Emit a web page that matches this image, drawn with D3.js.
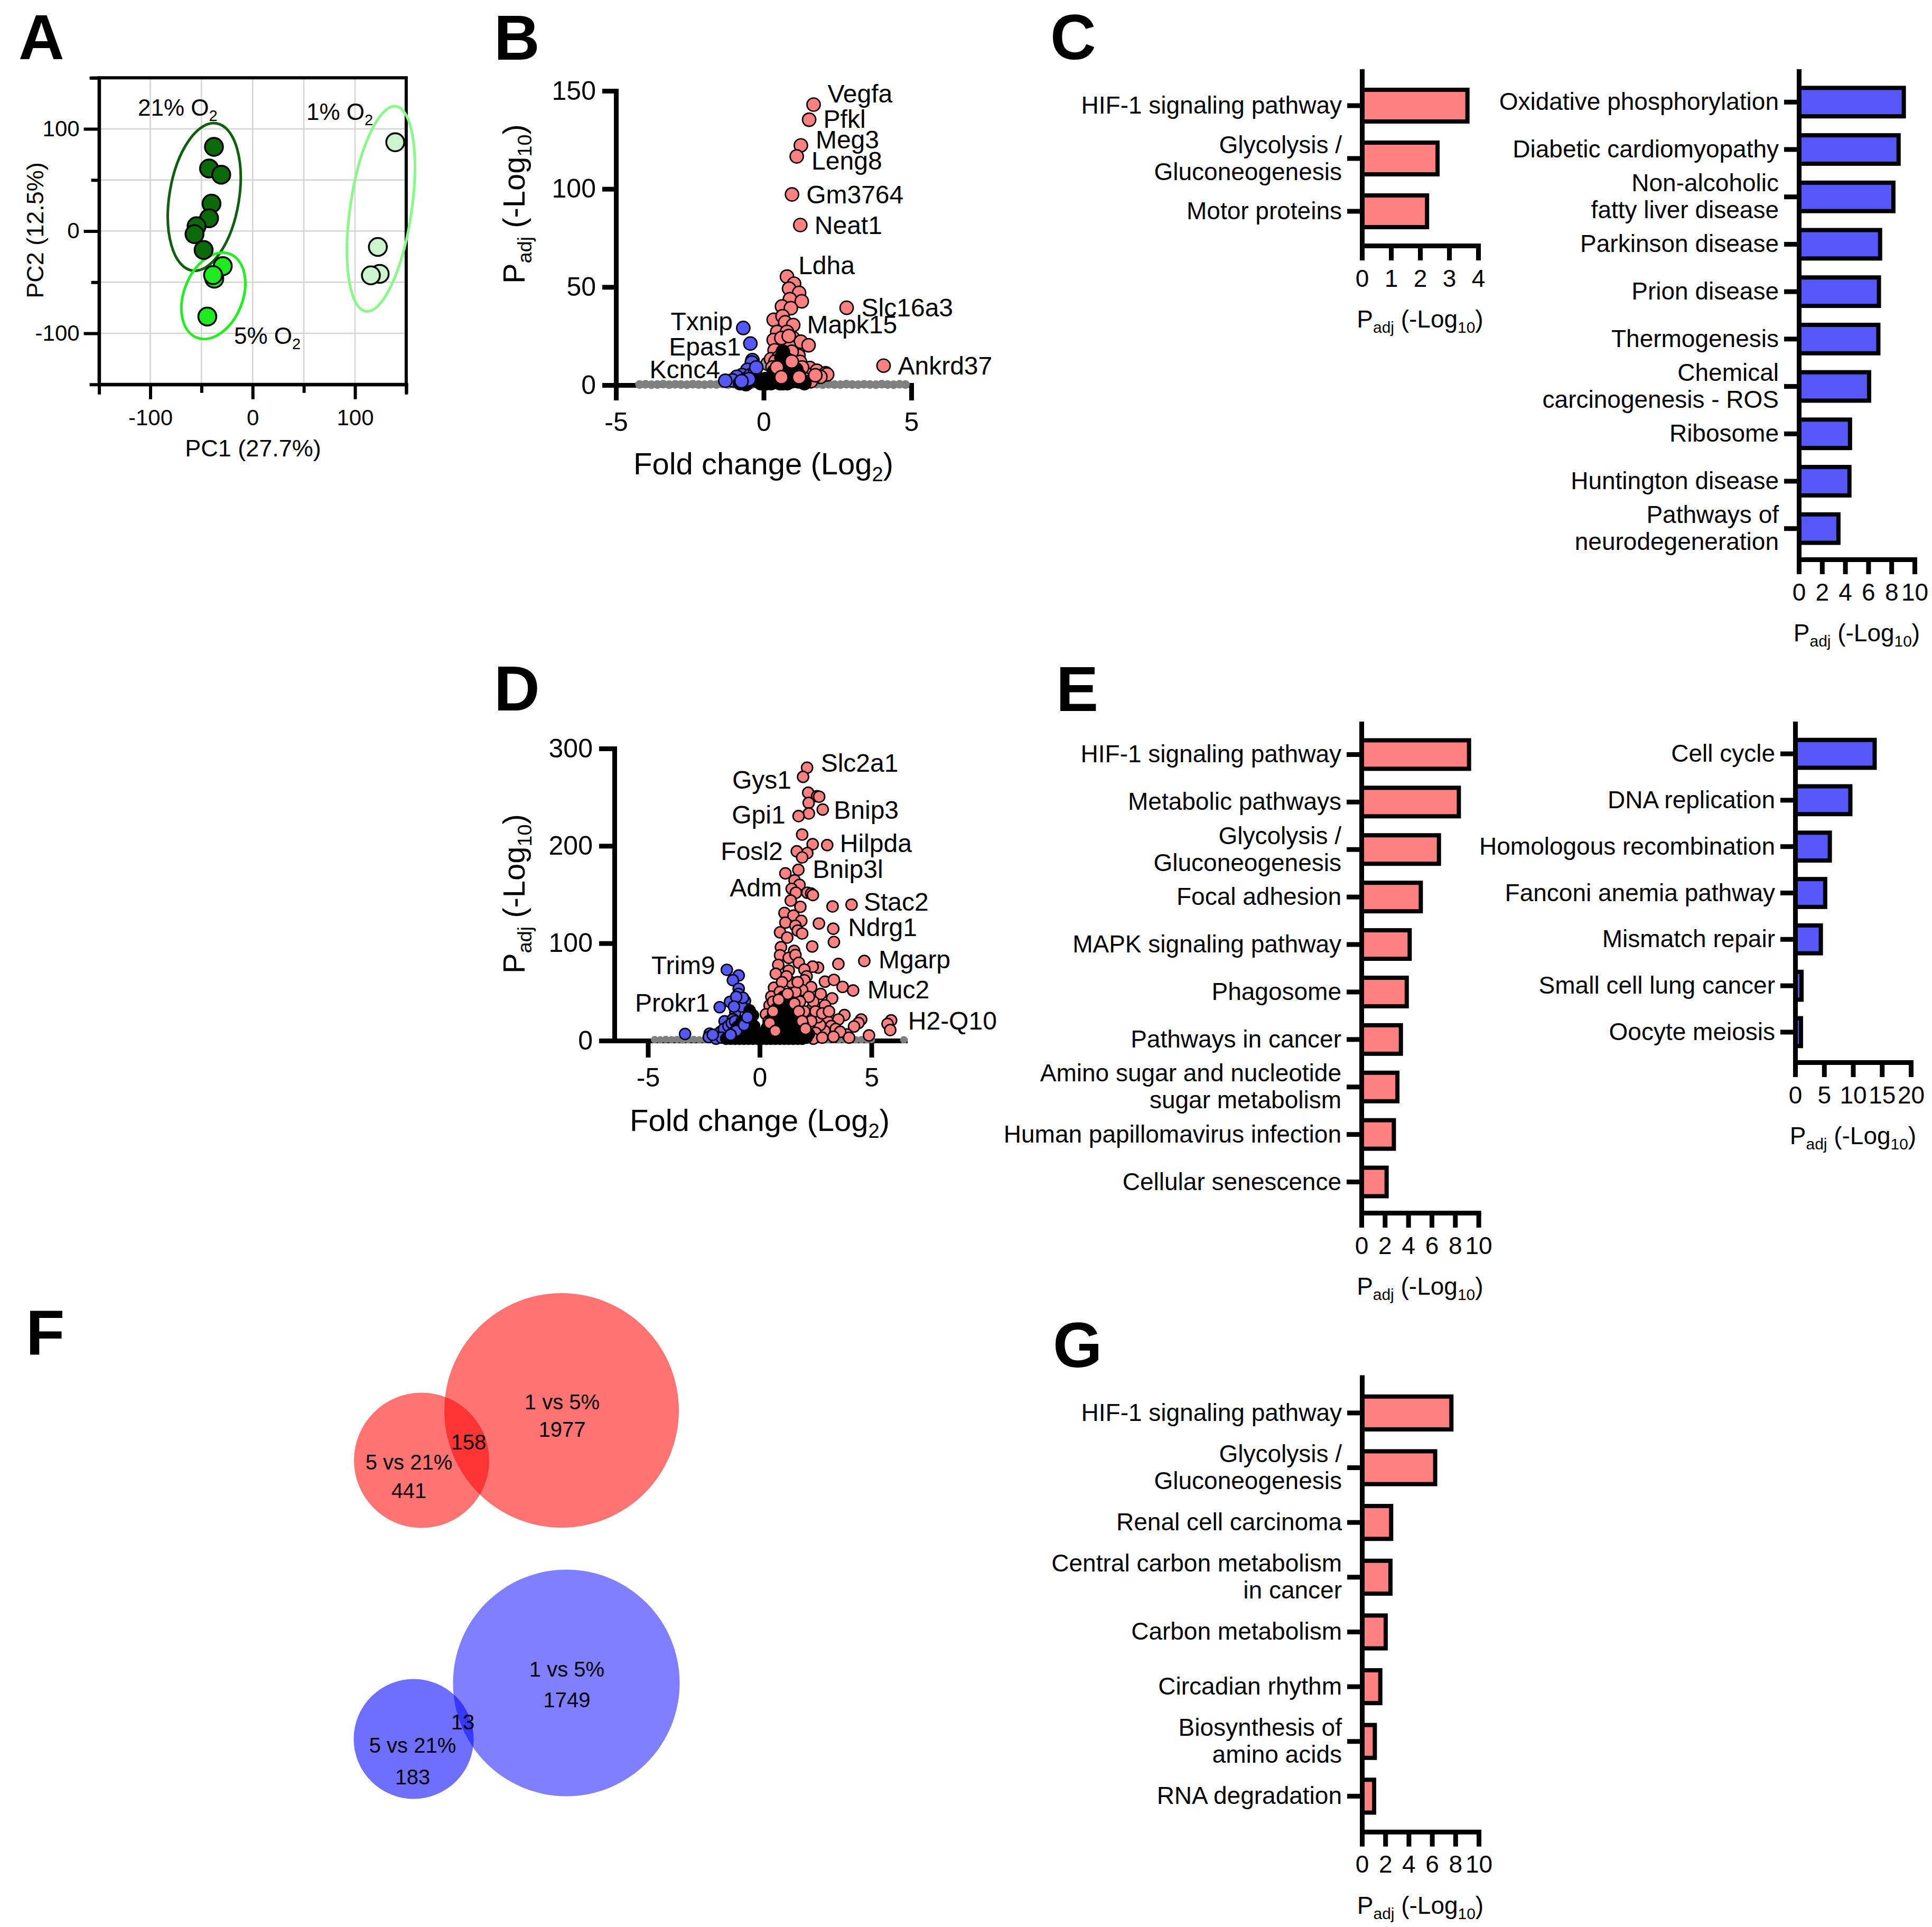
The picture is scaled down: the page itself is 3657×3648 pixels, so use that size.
<!DOCTYPE html>
<html>
<head>
<meta charset="utf-8">
<script src="https://cdn.jsdelivr.net/npm/d3@7"></script>
<style>
  body { margin: 0; background: #fff; }
</style>
</head>
<body>
<svg id="fig"></svg>
<script>
// ---------------- data ----------------
// A: PCA scores (PC1, PC2)
var pca21 = [[-37.8,82.4],[-42.6,61.2],[-30.7,55.2],[-40.2,26.9],[-42.6,12.5],[-54.8,4.8],[-56.8,-3.0],[-47.9,-18.5]]
var pca5 = [[-29.2,-34.3],[-37.5,-46.5],[-38.7,-43.0],[-44.3,-83.6]]
var pca1 = [[139.3,86.9],[124.1,-41.8],[122.3,-15.5],[115.5,-43.3]]
// ellipses: centre x, centre y, semi-minor, semi-major, tilt (deg)
var pcaEllipses = [[-47.3,33.4,34,73,9.4],[-38.4,-63.3,28.7,44,21.7],[125.3,21.8,30,101.4,8.4]]
var pcaLabels = [['21% O','2',-112.1,112.9],['1% O','2',52.5,108.8],['5% O','2',-18.2,-110.3]]

// B: volcano 1% vs 5%  [log2 FC, -log10 padj]
var upB = [[1.69,143],[1.54,135.3],[1.26,122.2],[1.12,116.6],[0.96,97.2],[1.24,81.6],[0.79,55.3],[2.81,39.4],[4.06,9.9],
  [1.03,51.7],[0.86,49.2],[1.20,47],[0.89,43.8],[1.29,42.7],[0.62,40.1],[0.92,39.2],[0.34,33.3],[0.64,35.1],[0.73,32],
  [1.0,30.6],[0.46,27.1],[0.79,27.1],[0.34,23],[0.67,23.5],[1.0,23.9],[1.26,22.1],[1.52,20.3],[0.37,17.7],[0.79,19.5],
  [1.18,15],[0.25,13.2],[1.23,11.8],[1.56,8.7],[1.80,7.3],[2.10,6.0],[2.15,5.4],[1.92,4.2],[1.68,3.8],[1.45,5.5],[1.3,9],
  [0.5,14],[0.85,20],[0.95,17],[0.4,12],[0.3,9],[0.6,24],[0.85,25],[1.4,3],[1.6,2],[1.75,5]]
var downB = [[-0.69,29.1],[-0.45,21.2],[-0.38,12.7],[-0.40,11.5],[-0.55,7.8],[-0.73,5.1],[-0.91,4.2],[-1.06,2.4],[-1.30,2.2],
  [-0.6,3],[-0.45,5],[-0.3,6],[-0.25,9]]
var nsBandB = [[-4.2,.3],[-4.0,.4],[-3.8,.2],[-3.6,.3],[-3.4,.5],[-3.2,.2],[-3.0,.4],[-2.8,.3],[-2.6,.2],[-2.4,.5],[-2.2,.3],
  [-2.0,.2],[-1.8,.4],[-1.6,.3],[-1.4,.6],[-1.2,.2],[-1.0,.5],[-0.8,.3],[-0.6,.4],[-0.4,.2],[-0.2,.6],[0,.3],[0.2,.5],[0.4,.2],
  [0.6,.4],[0.8,.3],[1.0,.5],[1.2,.2],[1.4,.4],[1.6,.3],[1.8,.5],[2.0,.2],[2.2,.4],[2.4,.3],[2.6,.2],[2.8,.5],[3.0,.3],[3.2,.2],
  [3.4,.4],[3.6,.3],[3.8,.2],[4.0,.5],[4.2,.3],[4.4,.2],[4.6,.4],[4.8,.3]]
var nsB = [[0.13,10.9],[0.07,2.9]]
var coreB = [[-0.8,1],[-0.65,1.5],[-0.5,2],[-0.35,2.5],[-0.2,2],[-0.1,1],[0,2],[0.1,1],[0.2,2],[0.3,4],[0.4,2],[0.45,7],
  [0.5,4],[0.55,10],[0.6,14],[0.62,6],[0.65,17],[0.7,11],[0.72,3],[0.75,8],[0.8,13],[0.85,5],[0.9,9],[0.95,2],[1.0,6],
  [1.05,3],[1.1,8],[1.15,2],[1.2,5],[1.3,2],[1.38,1],[0.55,1],[0.8,1],[0.35,7],[0.65,1],[-0.6,0.5],[0.25,1],[0.05,3]]
var genesB = [['Vegfa',1.69,143],['Pfkl',1.54,135.3],['Meg3',1.26,122.2],['Leng8',1.12,116.6],['Gm3764',0.96,97.2],
  ['Neat1',1.24,81.6],['Ldha',0.79,55.3],['Slc16a3',2.81,39.4],['Mapk15',1.0,30.6],['Ankrd37',4.06,9.9],
  ['Txnip',-0.69,29.1],['Epas1',-0.45,21.2],['Kcnc4',-1.30,2.2]]

// C: KEGG enrichment, 1% vs 5%
var catsCUp = ['HIF-1 signaling pathway','Glycolysis /\nGluconeogenesis','Motor proteins']
var valsCUp = [3.63,2.6,2.24]
var catsCDown = ['Oxidative phosphorylation','Diabetic cardiomyopathy','Non-alcoholic\nfatty liver disease','Parkinson disease',
  'Prion disease','Thermogenesis','Chemical\ncarcinogenesis - ROS','Ribosome','Huntington disease','Pathways of\nneurodegeneration']
var valsCDown = [9.07,8.62,8.17,7.02,6.92,6.87,6.07,4.42,4.37,3.42]

// D: volcano 5% vs 21%
var upD = [[2.12,280.3],[1.94,270.9],[2.17,254.6],[2.57,251],[2.66,250.5],[2.19,244.2],[2.82,237.3],[2.20,233.3],[1.74,230.6],
  [1.90,211.6],[2.37,201.7],[3.02,200.8],[1.66,194.4],[2.13,192.6],[1.90,188.1],[1.73,175.4],[1.15,171.8],[1.56,164.6],
  [1.78,160],[1.43,155.9],[1.62,151.9],[2.13,151.9],[2.3,151],[2.38,149.5],[1.39,143.8],[1.82,137.4],[3.26,137.8],[4.11,139.6],
  [1.11,131.1],[1.51,128.4],[1.86,123],[1.15,121.2],[2.65,120.3],[3.29,114.9],[1.6,118],[1.7,113],[1.9,110],[0.91,111.2],
  [1.23,105.8],[3.32,101.3],[2.35,96.7],[0.95,95.9],[1.54,92.2],[0.91,87.7],[1.3,85],[1.6,88],[1.75,80],[4.68,81.8],[3.52,78.7],
  [2.61,75],[2.37,76],[0.83,77.8],[0.72,68.7],[1.3,72],[2.0,73],[2.1,66],[2.92,60.6],[3.32,62.4],[3.71,55.2],[4.18,51.5],
  [2.0,62],[2.3,55],[1.9,52],[0.64,54.3],[0.52,45.2],[2.73,47.9],[3.24,43.4],[2.33,32.6],[2.92,36.2],[0.44,36.2],[0.28,27.1],
  [3.79,26.2],[3.52,21.7],[4.54,21.7],[4.42,18.1],[4.22,14.5],[3.91,6.3],[4.89,5.4],[5.88,20.8],[5.72,17.2],[5.84,10.9],
  [3.04,19.9],[3.2,15],[2.9,10],[2.7,16],[2.5,8],[2.6,24],[2.4,40],[2.5,30],[2.2,45],[2.8,28],[3.1,30],[3.4,12],[3.6,9],
  [2.3,20],[2.0,30],[1.8,40],[1.6,50],[1.4,60],[1.2,66],[1.0,60],[0.9,50],[0.4,20],[0.3,12],[0.2,6],[0.6,40],[1.7,60],
  [2.4,2],[2.8,3],[3.3,4],[4.0,3]]
var downD = [[-1.47,72.7],[-0.94,66.9],[-1.20,62],[-0.94,53.3],[-0.95,48],[-0.66,40.7],[-1.33,39.8],[-1.79,34.3],[-1.09,28.9],
  [-1.57,19.9],[-1.2,22],[-0.55,32],[-0.42,27],[-3.34,6.9],[-2.24,7.2],[-2.28,3.6],[-1.84,7.2],[-1.75,9],[-1.6,12],[-1.4,15],
  [-1.25,18],[-1.1,20],[-0.8,35],[-0.75,44],[-1.05,45],[-1.15,35],[-2.0,4],[-1.95,2],[-1.7,3],[-2.1,6]]
var nsBandD = [[-4.7,1],[-4.45,.8],[-4.2,1.2],[-3.95,.9],[-3.7,1.1],[-3.45,.7],[-3.2,1],[-2.95,1.2],[-2.7,.8],[-2.45,1],
  [-2.2,.9],[-1.95,1.1],[-1.7,.8],[-1.45,1],[-1.2,1.2],[-0.95,.9],[-0.7,1],[-0.45,.8],[-0.2,1.1],[0.05,.9],[0.3,1],[0.55,1.2],
  [0.8,.8],[1.05,1],[1.3,.9],[1.55,1.1],[1.8,.8],[2.05,1],[2.3,1.2],[2.55,.9],[2.8,1],[3.05,.8],[3.3,1.1],[3.55,.9],[3.8,1],
  [4.05,1.2],[4.3,.8],[4.55,1],[4.8,.9],[5.0,1.1],[6.45,.8]]
var nsD = [[0.1,2.5]]
var coreD = [[0.1,2],[0.3,2],[0.5,2],[0.7,2],[0.9,2],[1.1,2],[1.3,2],[1.5,2],[1.7,2],[1.9,2],[2.1,3],[2.2,7],
  [0.2,8],[0.4,7],[0.6,8],[0.8,7],[1.0,8],[1.2,7],[1.4,8],[1.6,8],[1.8,8],[2.0,10],
  [0.35,14],[0.55,14],[0.75,14],[0.95,14],[1.15,14],[1.35,14],[1.55,14],[1.75,15],[1.95,16],
  [0.5,20],[0.7,21],[0.9,20],[1.1,21],[1.3,20],[1.5,21],[1.7,22],
  [0.6,27],[0.8,27],[1.0,28],[1.2,27],[1.4,28],[1.6,28],
  [0.75,33],[0.95,34],[1.15,34],[1.35,33],[1.5,35],[0.9,39],[1.1,40],[1.3,39],[1.05,45],[1.2,43],
  [-1.5,2],[-1.3,2],[-1.1,2],[-0.9,2],[-0.7,2],[-0.5,2],[-0.3,2],[-0.1,2],
  [-1.2,8],[-1.0,8],[-0.8,8],[-0.6,8],[-0.4,8],[-0.2,8],
  [-1.0,14],[-0.8,14],[-0.6,14],[-0.4,14],[-0.25,15],[-0.8,20],[-0.6,20],[-0.4,21],[-0.3,26],[-0.5,26],[-0.45,31]]
// a few coloured points that sit on top of the dense core
var upCoreD = [[0.45,18],[0.6,30],[1.55,38],[1.75,30],[1.9,20],[2.05,12],[0.7,10],[1.25,48],[0.85,42]]
var downCoreD = [[-1.05,10],[-0.7,16],[-1.3,6],[-0.55,24]]
var genesD = [['Slc2a1',2.12,280.3],['Gys1',1.94,270.9],['Bnip3',2.82,237.3],['Gpi1',1.74,230.6],['Hilpda',3.02,200.8],
  ['Fosl2',1.66,194.4],['Bnip3l',1.73,175.4],['Adm',1.43,155.9],['Stac2',4.11,139.6],['Ndrg1',3.29,114.9],
  ['Mgarp',4.68,81.8],['Muc2',4.18,51.5],['H2-Q10',5.88,20.8],['Trim9',-1.47,72.7],['Prokr1',-1.79,34.3]]
var upCoreB = [[0.45,9],[0.95,12],[1.2,4],[0.6,4]]
var downCoreB = [[-0.5,3],[-0.75,2]]

// E: KEGG enrichment, 5% vs 21%
var catsEUp = ['HIF-1 signaling pathway','Metabolic pathways','Glycolysis /\nGluconeogenesis','Focal adhesion',
  'MAPK signaling pathway','Phagosome','Pathways in cancer','Amino sugar and nucleotide\nsugar metabolism',
  'Human papillomavirus infection','Cellular senescence']
var valsEUp = [9.19,8.32,6.62,5.07,4.12,3.87,3.37,3.07,2.77,2.15]
var catsEDown = ['Cell cycle','DNA replication','Homologous recombination','Fanconi anemia pathway','Mismatch repair',
  'Small cell lung cancer','Oocyte meiosis']
var valsEDown = [13.74,9.54,5.99,5.19,4.44,1.1,1.0]

// F: overlap of DEGs
var vennUp = {small: 441, big: 1977, both: 158}
var vennDown = {small: 183, big: 1749, both: 13}

// G: shared up-regulated genes
var catsG = ['HIF-1 signaling pathway','Glycolysis /\nGluconeogenesis','Renal cell carcinoma',
  'Central carbon metabolism\nin cancer','Carbon metabolism','Circadian rhythm','Biosynthesis of\namino acids','RNA degradation']
var valsG = [7.66,6.27,2.5,2.44,2.03,1.57,1.1,1.04]

// ---------------- drawing ----------------
var W = 3657, H = 3648
var FONT = '"Liberation Sans", Arial, Helvetica, sans-serif'
var RED = '#FF8080', BLUE = '#5557F8'
var plain = d => String(d)   // hyphen minus, no decimals

var svg = d3.select('#fig').attr('width', W).attr('height', H)
svg.append('rect').attr('width', W).attr('height', H).attr('fill', '#fff')

function txt(g, x, y, s, fs, anchor) {
  return g.append('text').attr('x', x).attr('y', y).attr('font-family', FONT)
    .attr('font-size', fs).attr('text-anchor', anchor || 'start').attr('fill', '#000').text(s)
}

function letter(t, x, y) {
  txt(svg, x, y, t, 120).attr('font-weight', 'bold')
}

function styleAxis(g, lw, fs) {
  g.attr('font-family', FONT).attr('font-size', fs)
  g.select('.domain').attr('stroke-width', lw).attr('stroke-linecap', 'square').attr('stroke', '#000')
  g.selectAll('.tick line').attr('stroke-width', lw).attr('stroke', '#000')
  g.selectAll('.tick text').attr('fill', '#000')
}

// P_adj (-Log10) title with subscripts
function padjTitle(g, fs) {
  var t = g.append('text').attr('font-family', FONT).attr('font-size', fs).attr('text-anchor', 'middle').attr('fill', '#000')
  var s = fs * 0.65, d = fs * 0.22
  t.append('tspan').text('P')
  t.append('tspan').attr('font-size', s).attr('dy', d).text('adj')
  t.append('tspan').attr('dy', -d).text(' (-Log')
  t.append('tspan').attr('font-size', s).attr('dy', d).text('10')
  t.append('tspan').attr('dy', -d).text(')')
  return t
}

// ---------- A: PCA ----------
letter('A', 35, 112)
var xA = d3.scaleLinear().domain([-150, 150]).range([187.6, 768.9])
var yA = d3.scaleLinear().domain([-150, 150]).range([727.75, 147.25])
var gA = svg.append('g')
var gridV = [-100, -50, 0, 50, 100]
gA.selectAll('.gx').data(gridV).join('line')
  .attr('x1', d => xA(d)).attr('x2', d => xA(d)).attr('y1', yA(150)).attr('y2', yA(-150))
  .attr('stroke', '#d4d4d4').attr('stroke-width', 2.5)
gA.selectAll('.gy').data(gridV).join('line')
  .attr('y1', d => yA(d)).attr('y2', d => yA(d)).attr('x1', xA(-150)).attr('x2', xA(150))
  .attr('stroke', '#d4d4d4').attr('stroke-width', 2.5)
gA.append('rect').attr('x', xA(-150)).attr('y', yA(150)).attr('width', xA(150) - xA(-150)).attr('height', yA(-150) - yA(150))
  .attr('fill', 'none').attr('stroke', '#000').attr('stroke-width', 6)
var axAl = gA.append('g').attr('transform', `translate(${xA(-150)},0)`)
  .call(d3.axisLeft(yA).tickValues([-100, 0, 100]).tickFormat(plain).tickSize(29).tickPadding(8).tickSizeOuter(0))
styleAxis(axAl, 6, 42)
var axAl2 = gA.append('g').attr('transform', `translate(${xA(-150)},0)`)
  .call(d3.axisLeft(yA).tickValues([-50, 50, 150]).tickSize(15).tickFormat(''))
styleAxis(axAl2, 6, 42)
var axAb = gA.append('g').attr('transform', `translate(0,${yA(-150)})`)
  .call(d3.axisBottom(xA).tickValues([-100, 0, 100]).tickFormat(plain).tickSize(28).tickPadding(19).tickSizeOuter(0))
styleAxis(axAb, 6, 42)
var axAb2 = gA.append('g').attr('transform', `translate(0,${yA(-150)})`)
  .call(d3.axisBottom(xA).tickValues([-50, 50, 150]).tickSize(16).tickFormat(''))
styleAxis(axAb2, 6, 42)
txt(gA, 479, 864, 'PC1 (27.7%)', 45, 'middle')
txt(gA, 0, 0, 'PC2 (12.5%)', 45, 'middle').attr('transform', 'translate(82,436) rotate(-90)')

var ellColors = ['#0F5F0F', '#22EE22', '#88F888']
var ptColors = ['#0A6A0A', '#1EEB1E', '#CCF5CC']
gA.selectAll('.ell').data(pcaEllipses).join('ellipse')
  .attr('transform', d => `translate(${xA(d[0])},${yA(d[1])}) rotate(${d[4]})`)
  .attr('rx', d => xA(d[2]) - xA(0)).attr('ry', d => yA(0) - yA(d[3]))
  .attr('fill', 'none').attr('stroke', (d, i) => ellColors[i]).attr('stroke-width', 5)
;[pca21, pca5, pca1].forEach(function(set, i) {
  gA.append('g').selectAll('circle').data(set).join('circle')
    .attr('cx', d => xA(d[0])).attr('cy', d => yA(d[1])).attr('r', 17)
    .attr('fill', ptColors[i]).attr('stroke', '#000').attr('stroke-width', 3.5)
})
pcaLabels.forEach(function(l) {
  var t = txt(gA, xA(l[2]), yA(l[3]), l[0], 44)
  t.append('tspan').attr('font-size', 29).attr('dy', 10).text(l[1])
})

// ---------- volcano helper ----------
function volcano(cfg) {
  var g = svg.append('g')
  var x = d3.scaleLinear().domain(cfg.xdom).range(cfg.xr)
  var y = d3.scaleLinear().domain(cfg.ydom).range(cfg.yr)
  var ax = g.append('g').attr('transform', `translate(${cfg.xr[0]},0)`)
    .call(d3.axisLeft(y).tickValues(cfg.yticks).tickFormat(plain).tickSize(cfg.tl).tickPadding(12).tickSizeOuter(0))
  styleAxis(ax, 9, 50)
  var bx = g.append('g').attr('transform', `translate(0,${y(0)})`)
    .call(d3.axisBottom(x).tickValues([-5, 0, 5]).tickFormat(plain).tickSize(cfg.tl + 3).tickPadding(cfg.xpad).tickSizeOuter(0))
  styleAxis(bx, 9, 50)
  function dots(data, r, fill, stroke, sw) {
    g.append('g').selectAll('circle').data(data).join('circle')
      .attr('cx', d => x(d[0])).attr('cy', d => y(d[1])).attr('r', r)
      .attr('fill', fill).attr('stroke', stroke).attr('stroke-width', sw)
  }
  dots(cfg.band, cfg.r * 0.6, '#808080', '#808080', 1.5)
  dots(cfg.ns, cfg.r, '#999999', '#000', 2.7)
  dots(cfg.down, cfg.r, BLUE, '#000', 2.7)
  dots(cfg.up, cfg.r, RED, '#000', 2.7)
  dots(cfg.core, cfg.r, '#000', '#000', 2.7)
  dots(cfg.downCore, cfg.r, BLUE, '#000', 2.7)
  dots(cfg.upCore, cfg.r, RED, '#000', 2.7)
  cfg.genes.forEach(function(gn, i) {
    var o = cfg.offs[i]
    txt(g, x(gn[1]) + o[0], y(gn[2]) + o[1], gn[0], 48, o[2])
  })
  var xt = txt(g, cfg.xtitle[0], cfg.xtitle[1], 'Fold change (Log', 58, 'middle')
  xt.append('tspan').attr('font-size', 38).attr('dy', 13).text('2')
  xt.append('tspan').attr('dy', -13).text(')')
  padjTitle(g, 58).attr('transform', `translate(${cfg.ytitle[0]},${cfg.ytitle[1]}) rotate(-90)`)
}

// ---------- B ----------
letter('B', 935, 113)
volcano({
  xdom: [-5, 5], xr: [1166, 1725], ydom: [0, 150], yr: [729, 172], yticks: [0, 50, 100, 150],
  tl: 26, xpad: 22, r: 12.5,
  band: nsBandB, ns: nsB, up: upB, down: downB, core: coreB, upCore: upCoreB, downCore: downCoreB, genes: genesB,
  offs: [[26.5,-4,'start'],[27,15,'start'],[28,6,'start'],[28,25,'start'],[27,17,'start'],[27,17,'start'],[21.5,-5,'start'],
    [28,16,'start'],[26,16,'start'],[27,17,'start'],[-20,4.5,'end'],[-18,23,'end'],[-10,-5,'end']],
  xtitle: [1445, 898], ytitle: [993, 386]
})

// ---------- D ----------
letter('D', 935, 1345)
volcano({
  xdom: [-6.5, 6.5], xr: [1163, 1713], ydom: [0, 300], yr: [1970, 1417], yticks: [0, 100, 200, 300],
  tl: 29, xpad: 19, r: 10.5,
  band: nsBandD, ns: nsD, up: upD, down: downD, core: coreD, upCore: upCoreD, downCore: downCoreD, genes: genesD,
  offs: [[26,8,'start'],[-22,22,'end'],[21,17,'start'],[-25,14,'end'],[24,13,'start'],[-26.5,16,'end'],[27,15,'start'],
    [-18.5,14,'end'],[23,11,'start'],[28,13.5,'start'],[27,14,'start'],[27,15,'start'],[32,17,'start'],[-22,8,'end'],[-19,8,'end']],
  xtitle: [1438, 2141], ytitle: [993, 1692]
})

// ---------- bar chart helper ----------
function barChart(cfg) {
  var g = svg.append('g')
  var y = d3.scaleBand().domain(cfg.cats).range([cfg.top, cfg.bottom]).paddingInner(0.4).paddingOuter(0.35)
  var x = d3.scaleLinear().domain([0, cfg.max]).range([cfg.left, cfg.right])
  g.selectAll('rect').data(cfg.cats).join('rect')
    .attr('x', x(0)).attr('y', d => y(d)).attr('height', y.bandwidth())
    .attr('width', (d, i) => x(cfg.vals[i]) - x(0))
    .attr('fill', cfg.color).attr('stroke', '#000').attr('stroke-width', 8)
  var ya = g.append('g').attr('transform', `translate(${cfg.left},0)`)
    .call(d3.axisLeft(y).tickSize(28).tickFormat('').tickSizeOuter(0))
  styleAxis(ya, 9, 46)
  var xa = g.append('g').attr('transform', `translate(0,${cfg.bottom})`)
    .call(d3.axisBottom(x).tickValues(cfg.ticks).tickFormat(plain).tickSize(28).tickPadding(17).tickSizeOuter(0))
  styleAxis(xa, 9, 46)
  cfg.cats.forEach(function(c) {
    var lines = c.split('\n')
    var cy = y(c) + y.bandwidth() / 2
    lines.forEach(function(l, i) {
      txt(g, cfg.left - 38, cy + 15 + (i - (lines.length - 1) / 2) * 51, l, 46, 'end')
    })
  })
  padjTitle(g, 46).attr('transform', `translate(${(cfg.left + cfg.right) / 2},${cfg.bottom + 155})`)
}

// ---------- C ----------
letter('C', 1988, 112)
barChart({cats: catsCUp, vals: valsCUp, color: RED, top: 135, bottom: 465, left: 2578, right: 2798, max: 4, ticks: [0, 1, 2, 3, 4]})
barChart({cats: catsCDown, vals: valsCDown, color: BLUE, top: 135, bottom: 1059, left: 3405, right: 3624, max: 10, ticks: [0, 2, 4, 6, 8, 10]})

// ---------- E ----------
letter('E', 1999, 1346)
barChart({cats: catsEUp, vals: valsEUp, color: RED, top: 1370, bottom: 2296, left: 2577, right: 2798.6, max: 10, ticks: [0, 2, 4, 6, 8, 10]})
barChart({cats: catsEDown, vals: valsEDown, color: BLUE, top: 1370, bottom: 2011, left: 3398, right: 3617, max: 20, ticks: [0, 5, 10, 15, 20]})

// ---------- G ----------
letter('G', 1993, 2588)
barChart({cats: catsG, vals: valsG, color: RED, top: 2607.5, bottom: 3467.7, left: 2578, right: 2799, max: 10, ticks: [0, 2, 4, 6, 8, 10]})

// ---------- F: Venn ----------
letter('F', 49, 2564)
var vennLayout = [
  {set: vennUp, fill: 'red', op: [0.55, 0.55], big: [1063, 2670, 222], small: [798, 2764.5, 128],
   lab: [[1064, 2668, '1 vs 5%'], [1064, 2720, 'big'], [887, 2744, 'both'], [774, 2782, '5 vs 21%'], [774, 2836, 'small']]},
  {set: vennDown, fill: 'blue', op: [0.5, 0.57], big: [1072, 3186, 214.5], small: [783, 3292, 113.5],
   lab: [[1073, 3174, '1 vs 5%'], [1073, 3232, 'big'], [876, 3274, 'both'], [781, 3318, '5 vs 21%'], [781, 3378, 'small']]}
]
var gF = svg.append('g')
vennLayout.forEach(function(v) {
  gF.append('circle').attr('cx', v.big[0]).attr('cy', v.big[1]).attr('r', v.big[2]).attr('fill', v.fill).attr('fill-opacity', v.op[0])
  gF.append('circle').attr('cx', v.small[0]).attr('cy', v.small[1]).attr('r', v.small[2]).attr('fill', v.fill).attr('fill-opacity', v.op[1])
  v.lab.forEach(function(l) {
    var s = (l[2] in v.set) ? String(v.set[l[2]]) : l[2]
    txt(gF, l[0], l[1], s, 40, 'middle')
  })
})
</script>
</body>
</html>
